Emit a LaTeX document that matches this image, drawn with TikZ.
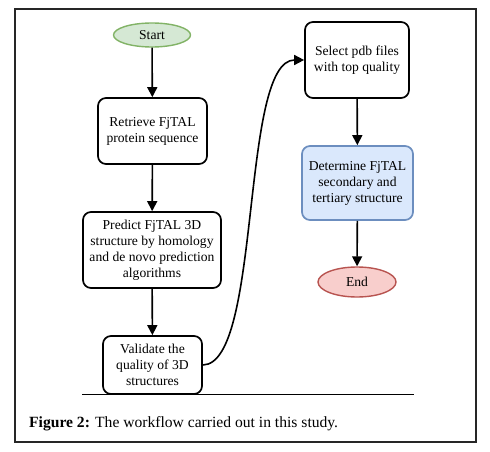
\documentclass[tikz,border=0pt]{standalone}
\usepackage{fontspec}
\setmainfont{Liberation Serif}
\usetikzlibrary{shapes.geometric,arrows.meta}
\definecolor{startfill}{HTML}{D5E8D4}
\definecolor{startdraw}{HTML}{82B366}
\definecolor{endfill}{HTML}{F8CECC}
\definecolor{enddraw}{HTML}{B85450}
\definecolor{bluefill}{HTML}{DAE8FC}
\definecolor{bluedraw}{HTML}{6C8EBF}
\tikzset{
  stepbox/.style={draw=black, line width=1.7pt, rounded corners=8pt, fill=white, align=center, inner sep=0pt, font=\fontsize{13.6}{16}\selectfont},
  term/.style={ellipse, line width=1.4pt, inner sep=0pt, font=\fontsize{13.6}{16}\selectfont},
  flow/.style={-{Triangle[length=10pt,width=10pt]}, line width=1.6pt, black},
}
\begin{document}
\begin{tikzpicture}[x=1pt,y=-1pt]
\useasboundingbox (0,0) rectangle (490,452);
\fill[white] (0,0) rectangle (490,452);
\draw[line width=1.3pt, black!85] (15,9) rectangle (476,442);
% nodes
\node[term, fill=startfill, draw=startdraw, minimum width=77pt, minimum height=24pt] (start) at (152,35) {Start};
\node[stepbox, minimum width=109pt, minimum height=66pt] (retrieve) at (152.5,131) {Retrieve FjTAL\\protein sequence};
\node[stepbox, minimum width=138pt, minimum height=76pt] (predict) at (152,250) {Predict FjTAL 3D\\structure by homology\\and de novo prediction\\algorithms};
\node[stepbox, minimum width=99pt, minimum height=58pt] (validate) at (152.5,365) {Validate the\\quality of 3D\\structures};
\node[stepbox, minimum width=104pt, minimum height=76pt] (select) at (357,60) {Select pdb files\\with top quality};
\node[stepbox, fill=bluefill, draw=bluedraw, minimum width=111pt, minimum height=74pt] (determine) at (357.5,183) {Determine FjTAL\\secondary and\\tertiary structure};
\node[term, fill=endfill, draw=enddraw, minimum width=78pt, minimum height=30pt] (end) at (357,282) {End};
% connectors
\draw[flow] (start) -- (retrieve);
\draw[flow] (retrieve) -- (predict);
\draw[flow] (predict) -- (validate);
\draw[flow] (validate.east) .. controls (262,364) and (240,60) .. (select.west);
\draw[flow] (select) -- (determine);
\draw[flow] (determine) -- (end);
% caption
\draw[line width=0.8pt] (82,394) coordinate (rl) -- (414,394) coordinate (rr);
\node[anchor=base west, inner sep=0pt, font=\fontsize{15.6}{18}\selectfont] (caption) at (29,427) {\textbf{Figure 2:} The workflow carried out in this study.};
\end{tikzpicture}
\end{document}
